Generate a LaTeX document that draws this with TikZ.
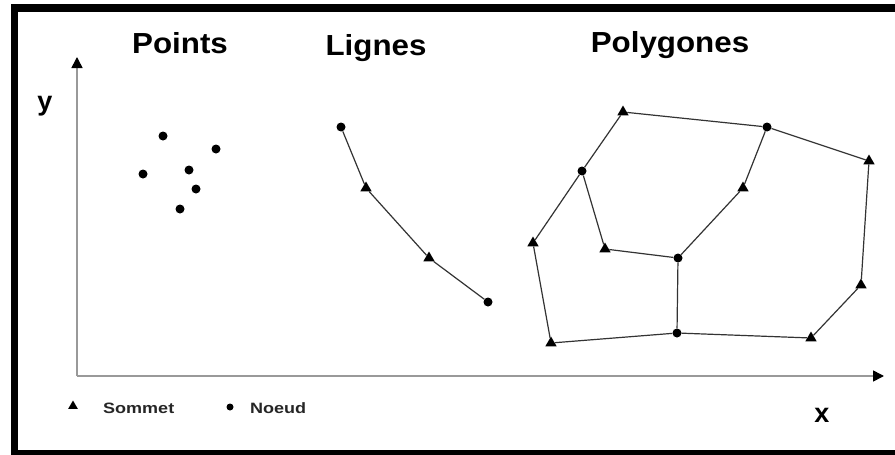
\documentclass[tikz,border=0pt]{standalone}
\usepackage{fontspec}
\setmainfont{Liberation Sans}
\usetikzlibrary{shapes.geometric,arrows.meta}
\tikzset{
  nd/.style={circle,fill=black,inner sep=0pt,minimum size=9pt},
  sm/.style={regular polygon,regular polygon sides=3,fill=black,inner sep=0pt,minimum size=13pt},
  edge/.style={draw=black!80,line width=1.2pt},
  axis/.style={draw=black!40,line width=1.6pt,-{Triangle[length=11pt,width=11pt,fill=black,color=black]}},
  ttl/.style={font=\fontsize{29}{30}\selectfont\bfseries,anchor=base,xscale=1.08,inner sep=0pt},
  lab/.style={font=\fontsize{27}{28}\selectfont\bfseries,anchor=base,inner sep=0pt},
  leg/.style={font=\fontsize{15}{16}\selectfont\bfseries,anchor=base west,xscale=1.2,inner sep=0pt,text=black!85}
}
\begin{document}
\begin{tikzpicture}[x=1pt,y=-1pt]
\useasboundingbox (0,0) rectangle (895,455);
\fill[white] (0,0) rectangle (895,455);
\draw[line width=7.5pt] (14.5,8) rectangle (905,453.5);
% axes
\coordinate (o) at (77,376);
\coordinate (ytip) at (77,57);
\coordinate (xtip) at (884,376);
\draw[axis] (o) -- (ytip);
\draw[axis] (o) -- (xtip);
\node[lab] (ylab) at (45,110) {y};
\node[lab] (xlab) at (822,422) {x};
% titles
\node[ttl] (tp) at (180,53) {Points};
\node[ttl] (tl) at (376,55) {Lignes};
\node[ttl] (tg) at (670,52) {Polygones};
% points
\node[nd] (p1) at (163,136) {};
\node[nd] (p2) at (216,149) {};
\node[nd] (p3) at (143,174) {};
\node[nd] (p4) at (189,170) {};
\node[nd] (p5) at (196,189) {};
\node[nd] (p6) at (180,209) {};
% lines
\node[nd] (l1) at (341,127) {};
\node[sm] (l2) at (366,188) {};
\node[sm] (l3) at (429,258) {};
\node[nd] (l4) at (488,302) {};
\draw[edge] (l1) -- (l2) -- (l3) -- (l4);
% polygons
\node[sm] (A) at (623,112) {};
\node[nd] (B) at (767,127) {};
\node[sm] (C) at (869,161) {};
\node[nd] (D) at (582,171) {};
\node[sm] (E) at (743,188) {};
\node[sm] (F) at (533,243) {};
\node[sm] (G) at (605,249) {};
\node[nd] (H) at (678,258) {};
\node[sm] (I) at (861,285) {};
\node[nd] (J) at (677,333) {};
\node[sm] (K) at (551,343) {};
\node[sm] (L) at (811,338) {};
\draw[edge] (A) -- (B);
\draw[edge] (B) -- (C);
\draw[edge] (A) -- (D);
\draw[edge] (D) -- (F);
\draw[edge] (D) -- (G);
\draw[edge] (G) -- (H);
\draw[edge] (B) -- (E);
\draw[edge] (E) -- (H);
\draw[edge] (H) -- (J);
\draw[edge] (F) -- (K);
\draw[edge] (K) -- (J);
\draw[edge] (J) -- (L);
\draw[edge] (L) -- (I);
\draw[edge] (I) -- (C);
% legend
\node[sm,minimum size=11pt] (ls) at (73,406) {};
\node[leg] (lst) at (103,413) {Sommet};
\node[nd,minimum size=7pt] (ln) at (230,407) {};
\node[leg] (lnt) at (250,413) {Noeud};
\end{tikzpicture}
\end{document}
